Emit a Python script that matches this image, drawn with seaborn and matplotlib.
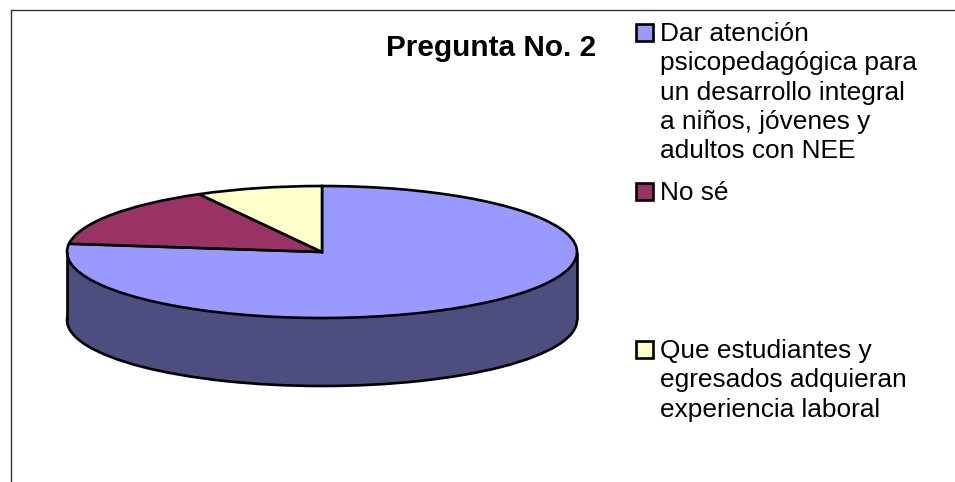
import matplotlib
matplotlib.use("Agg")
import matplotlib.pyplot as plt
import seaborn as sns
from matplotlib.patches import Rectangle

# values, percent
labels = [
    "Dar atención\npsicopedagógica para\nun desarrollo integral\na niños, jóvenes y\nadultos con NEE",
    "No sé",
    "Que estudiantes y\negresados adquieran\nexperiencia laboral",
]
values = [77, 15, 8]
colors = ["#9999FF", "#993366", "#FFFFCC"]
side_color = "#4D4D80"
title = "Pregunta No. 2"

sns.set_theme(style="white")
plt.rcParams["font.family"] = ["Liberation Sans", "DejaVu Sans"]

W, H = 955, 482
cx, cy, rx, ry, depth = 322, 252, 255, 66, 68  # pie ellipse in pixels
left, top = 11, 9.5

fig = plt.figure(figsize=(W / 100, H / 100), dpi=100)
ax = fig.add_axes([left / W, 0, (W - left) / W, (H - top) / H])

wedge_style = {"edgecolor": "black", "linewidth": 1.9}
d = depth / ry

# bottom of the disc, then the side, then the top with the slices
ax.pie([1], colors=[side_color], center=(0, -d), radius=1, startangle=90,
       wedgeprops=wedge_style)
ax.fill_between([-1, 1], -d, 0, color=side_color, linewidth=0)
ax.vlines([-1, 1], -d, 0, color="black", linewidth=1.9)
wedges, _ = ax.pie(values, colors=sns.color_palette(colors), center=(0, 0), radius=1,
                   startangle=90, counterclock=False, wedgeprops=wedge_style)

# squash the circle to the tilted ellipse
ax.set_aspect("auto")
ax.set_xlim((left - cx) / rx, (W - cx) / rx)
ax.set_ylim((cy - H) / ry, (cy - top) / ry)

ax.set_frame_on(True)
for side in ["right", "bottom"]:
    ax.spines[side].set_visible(False)
for side in ["left", "top"]:
    ax.spines[side].set_visible(True)
    ax.spines[side].set_color("#333333")
    ax.spines[side].set_linewidth(1)

fig.text(491 / W, 1 - 48 / H, title, fontsize=21.4, fontweight="bold",
         ha="center", va="center", color="black")

# legend placed by hand, entries are spaced unevenly in the original
legend_y = [24, 183, 341]
for lab, col, y in zip(labels, colors, legend_y):
    fig.add_artist(Rectangle((636 / W, 1 - (y + 17) / H), 17 / W, 17 / H, transform=fig.transFigure,
                             facecolor=col, edgecolor="black", linewidth=1.9))
    fig.text(660 / W, 1 - (y - 2) / H, lab, fontsize=18.9, linespacing=1.28,
             ha="left", va="top", color="black")

plt.savefig("out.png", dpi=100)
